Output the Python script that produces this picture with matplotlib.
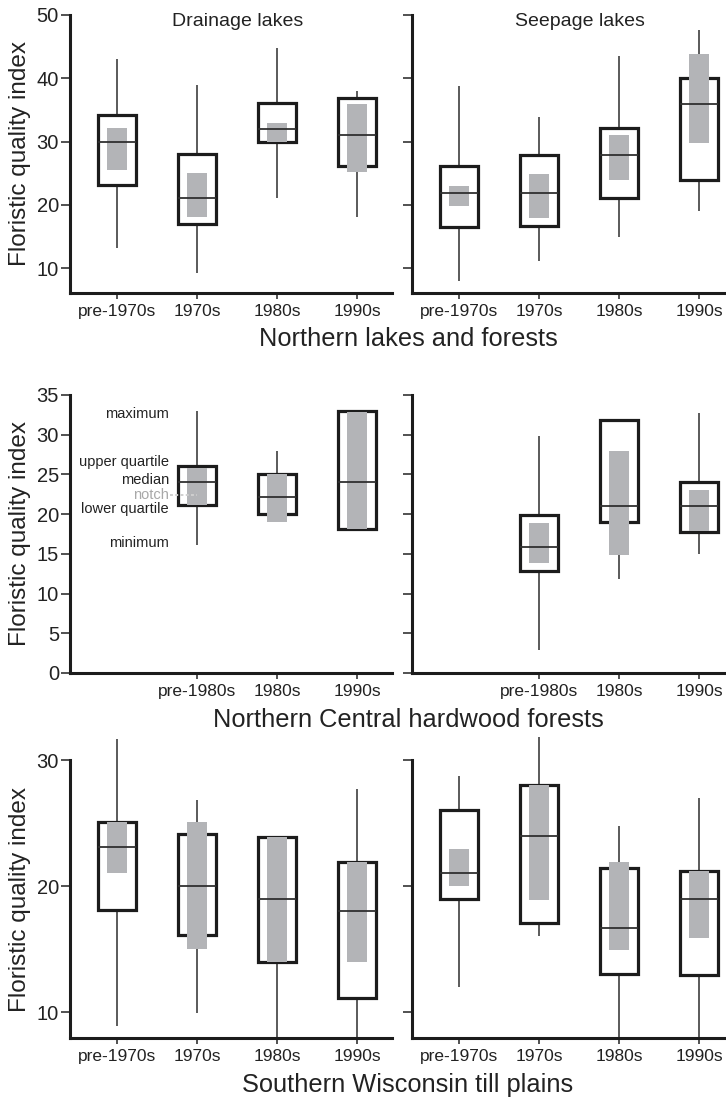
import matplotlib
matplotlib.use("Agg")
import matplotlib.pyplot as plt

plt.rcParams['font.family'] = ['Liberation Sans', 'DejaVu Sans']

# ---------------- data ----------------
decades4 = ["pre-1970s", "1970s", "1980s", "1990s"]
decades3 = ["pre-1980s", "1980s", "1990s"]

# Northern lakes and forests - Drainage lakes
nlf_dr_lo = [13.1, 9.2, 21.1, 18.1]
nlf_dr_q1 = [23.2, 17.0, 30.0, 26.1]
nlf_dr_med = [30.0, 21.1, 32.0, 31.0]
nlf_dr_q3 = [34.2, 28.1, 36.1, 36.9]
nlf_dr_hi = [43.0, 38.9, 44.8, 38.0]
nlf_dr_nlo = [25.5, 18.1, 30.0, 25.2]
nlf_dr_nhi = [32.1, 25.1, 33.0, 36.0]

# Northern lakes and forests - Seepage lakes
nlf_se_lo = [7.9, 11.1, 14.9, 19.0]
nlf_se_q1 = [16.5, 16.7, 21.0, 23.9]
nlf_se_med = [21.8, 21.8, 27.9, 35.9]
nlf_se_q3 = [26.1, 27.8, 32.1, 40.1]
nlf_se_hi = [38.8, 33.9, 43.5, 47.7]
nlf_se_nlo = [19.8, 17.9, 23.9, 29.8]
nlf_se_nhi = [22.9, 24.8, 31.0, 43.8]

# Northern Central hardwood forests - Drainage lakes
nch_dr_lo = [16.1, 19.0, 18.1]
nch_dr_q1 = [21.1, 20.0, 18.1]
nch_dr_med = [24.1, 22.1, 24.1]
nch_dr_q3 = [26.0, 25.1, 33.0]
nch_dr_hi = [33.0, 28.0, 33.0]
nch_dr_nlo = [21.2, 19.0, 18.1]
nch_dr_nhi = [25.8, 25.0, 32.9]

# Northern Central hardwood forests - Seepage lakes
nch_se_lo = [2.9, 11.8, 15.0]
nch_se_q1 = [12.9, 19.0, 17.8]
nch_se_med = [15.9, 21.0, 21.0]
nch_se_q3 = [19.9, 31.9, 24.0]
nch_se_hi = [29.8, 31.9, 32.7]
nch_se_nlo = [13.8, 14.8, 17.9]
nch_se_nhi = [18.9, 28.0, 23.1]

# Southern Wisconsin till plains - Drainage lakes
swt_dr_lo = [8.9, 9.9, 7.9, 7.9]
swt_dr_q1 = [18.1, 16.1, 14.0, 11.1]
swt_dr_med = [23.1, 20.0, 19.0, 18.0]
swt_dr_q3 = [25.1, 24.1, 23.9, 21.9]
swt_dr_hi = [31.7, 26.8, 23.9, 27.7]
swt_dr_nlo = [21.0, 15.0, 14.0, 14.0]
swt_dr_nhi = [25.1, 25.1, 23.9, 21.9]

# Southern Wisconsin till plains - Seepage lakes
swt_se_lo = [12.0, 16.0, 7.9, 7.9]
swt_se_q1 = [19.0, 17.1, 13.0, 12.9]
swt_se_med = [21.0, 24.0, 16.7, 19.0]
swt_se_q3 = [26.0, 28.0, 21.4, 21.2]
swt_se_hi = [28.7, 31.8, 24.8, 27.0]
swt_se_nlo = [20.0, 18.9, 14.9, 15.9]
swt_se_nhi = [22.9, 28.0, 21.9, 21.2]

row_titles = ["Northern lakes and forests",
              "Northern Central hardwood forests",
              "Southern Wisconsin till plains"]
col_titles = ["Drainage lakes", "Seepage lakes"]
ylabel = "Floristic quality index"

# ---------------- style ----------------
W, H = 726, 1100
BOX_EDGE = '#1c1c1c'
GRAY = '#b3b4b7'
MED = '#303030'
WHISK = '#4d4d4d'
TXT = '#222222'

fig = plt.figure(figsize=(W / 100, H / 100), dpi=100)


def axpos(x0, ytop, ybot, w=322):
    return [x0 / W, 1 - ybot / H, w / W, (ybot - ytop) / H]


def draw_panel(ax, positions, lo, q1, med, q3, hi, nlo, nhi):
    bw = 0.47
    nw = 0.245
    for p, a, b, m, c, d in zip(positions, lo, q1, med, q3, hi):
        ax.vlines(p, a, b, color=WHISK, lw=1.3, zorder=1, clip_on=False)
        ax.vlines(p, c, d, color=WHISK, lw=1.3, zorder=1, clip_on=False)
    heights = [c - b for b, c in zip(q1, q3)]
    ax.bar(positions, heights, bottom=q1, width=bw, facecolor='white',
           edgecolor=BOX_EDGE, linewidth=2.3, zorder=2)
    nh = [b - a for a, b in zip(nlo, nhi)]
    ax.bar(positions, nh, bottom=nlo, width=nw, color=GRAY, linewidth=0,
           zorder=3)
    ax.hlines(med, [p - bw / 2 for p in positions],
              [p + bw / 2 for p in positions], color=MED, lw=1.3, zorder=4)


def style(ax, ylim, yticks, labels, positions, show_y):
    ax.set_xlim(-0.5875, 3.4375)
    ax.set_ylim(*ylim)
    ax.set_yticks(yticks)
    ax.set_xticks(positions)
    ax.set_xticklabels(labels)
    for s in ['top', 'right']:
        ax.spines[s].set_visible(False)
    for s in ['left', 'bottom']:
        ax.spines[s].set_linewidth(2.2)
        ax.spines[s].set_color(BOX_EDGE)
    ax.tick_params(axis='y', length=6.5, width=1.2, color='#333333',
                   labelsize=14.5, labelcolor=TXT, pad=1.5,
                   labelleft=show_y)
    ax.tick_params(axis='x', length=4, width=1.2, color='#333333',
                   labelsize=12.5, labelcolor=TXT, pad=4)
    ax.patch.set_visible(False)


rows = [
    (15, 293, (6.05, 50), [10, 20, 30, 40, 50], decades4, [0, 1, 2, 3],
     (nlf_dr_lo, nlf_dr_q1, nlf_dr_med, nlf_dr_q3, nlf_dr_hi, nlf_dr_nlo, nlf_dr_nhi),
     (nlf_se_lo, nlf_se_q1, nlf_se_med, nlf_se_q3, nlf_se_hi, nlf_se_nlo, nlf_se_nhi)),
    (395, 673, (0, 35), [0, 5, 10, 15, 20, 25, 30, 35], decades3, [1, 2, 3],
     (nch_dr_lo, nch_dr_q1, nch_dr_med, nch_dr_q3, nch_dr_hi, nch_dr_nlo, nch_dr_nhi),
     (nch_se_lo, nch_se_q1, nch_se_med, nch_se_q3, nch_se_hi, nch_se_nlo, nch_se_nhi)),
    (760, 1038, (7.94, 30), [10, 20, 30], decades4, [0, 1, 2, 3],
     (swt_dr_lo, swt_dr_q1, swt_dr_med, swt_dr_q3, swt_dr_hi, swt_dr_nlo, swt_dr_nhi),
     (swt_se_lo, swt_se_q1, swt_se_med, swt_se_q3, swt_se_hi, swt_se_nlo, swt_se_nhi)),
]

axes = []
for ytop, ybot, ylim, yt, labels, pos, left_stats, right_stats in rows:
    axl = fig.add_axes(axpos(70, ytop, ybot))
    axr = fig.add_axes(axpos(412, ytop, ybot))
    draw_panel(axl, pos, *left_stats)
    draw_panel(axr, pos, *right_stats)
    style(axl, ylim, yt, labels, pos, True)
    style(axr, ylim, yt, labels, pos, False)
    axes.append((axl, axr))
    fig.text(20 / W, 1 - ((ytop + ybot) / 2) / H, ylabel, rotation=90,
             ha='center', va='center', fontsize=17.5, color=TXT)

# column titles
fig.text(237.5 / W, 1 - 22 / H, col_titles[0], ha='center', va='center',
         fontsize=14, color=TXT)
fig.text(579.5 / W, 1 - 22 / H, col_titles[1], ha='center', va='center',
         fontsize=14, color=TXT)

# row titles
for title, yc in zip(row_titles, [338.5, 720, 1085]):
    fig.text(408 / W, 1 - yc / H, title, ha='center', va='center',
             fontsize=18.3, color=TXT)

# annotations on middle-left panel
axm = axes[1][0]
ann_font = dict(family=['Liberation Sans Narrow', 'Liberation Sans', 'DejaVu Sans'],
                fontstretch='condensed', fontsize=10.5, ha='right',
                va='baseline')
ann = [("maximum", 32.06, TXT), ("upper quartile", 26.0, TXT),
       ("median", 23.8, TXT), ("notch", 21.9, '#a8a8a8'),
       ("lower quartile", 20.1, TXT), ("minimum", 15.9, TXT)]
for txt, yv, col in ann:
    axm.text(0.65, yv, txt, color=col, **ann_font)
axm.plot([0.66, 1.0], [22.35, 22.35], color='#cfcfcf', lw=1.4,
         linestyle=(0, (1.5, 1.2)), zorder=5)

fig.savefig("out.png", dpi=100)
